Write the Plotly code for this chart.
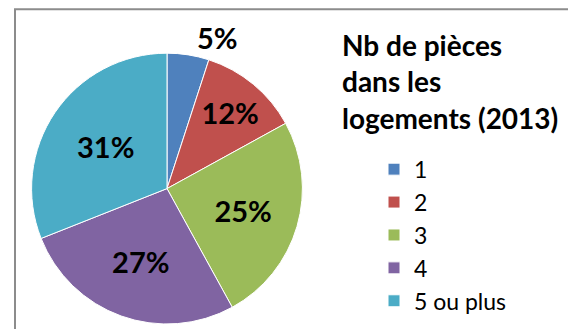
import plotly.graph_objects as go

# Number of rooms per dwelling (2013), share of dwellings in %
categories = ["1", "2", "3", "4", "5 ou plus"]
shares = [5, 12, 25, 27, 31]
colors = ["#4F81BD", "#C0504D", "#9BBB59", "#8064A2", "#4BACC6"]
label_positions = ["outside", "inside", "inside", "inside", "inside"]
title_text = "Nb de pièces<br>dans les<br>logements (2013)"

W, H = 568, 329
FONT = "Lato"

fig = go.Figure(
    go.Pie(
        labels=categories,
        values=shares,
        sort=False,
        direction="clockwise",
        rotation=0,
        marker=dict(colors=colors, line=dict(color="white", width=1)),
        texttemplate="%{value}%",
        textposition=label_positions,
        insidetextorientation="horizontal",
        textfont=dict(family=FONT, size=29, color="black", weight="bold"),
        hoverinfo="label+percent",
        domain=dict(x=[29 / W, 305 / W], y=[0, 1 - 54 / H]),
    )
)

# Chart frame (extends past the visible right/bottom edges)
fig.add_shape(
    type="rect", xref="paper", yref="paper",
    x0=15 / W, x1=1.2, y0=-0.2, y1=1 - 9.5 / H,
    line=dict(color="#8C8C8C", width=2), fillcolor="rgba(0,0,0,0)",
    layer="below",
)

fig.add_annotation(
    text=title_text, xref="paper", yref="paper",
    x=340 / W, y=1 - 26 / H, xanchor="left", yanchor="top",
    align="left", showarrow=False,
    font=dict(family=FONT, size=28, color="black", weight="bold"),
)

fig.update_layout(
    width=W, height=H,
    margin=dict(l=0, r=0, t=0, b=0),
    paper_bgcolor="white",
    uniformtext=dict(minsize=29, mode="show"),
    showlegend=True,
    legend=dict(
        x=374 / W, y=1 - 150 / H, xanchor="left", yanchor="top",
        font=dict(family=FONT, size=23, color="black"),
        bgcolor="rgba(0,0,0,0)",
    ),
)

fig.write_html("out.html")
